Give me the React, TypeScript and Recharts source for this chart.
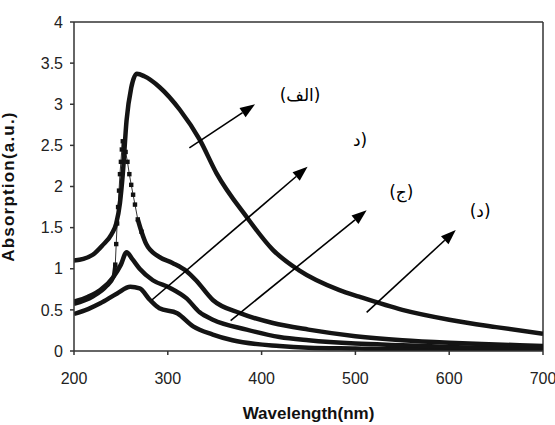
import React from 'react';
import { LineChart, Line, XAxis, YAxis, ReferenceLine, ReferenceDot, Label } from 'recharts';

const xTicks = [200, 300, 400, 500, 600, 700];
const yTicks = [0, 0.5, 1, 1.5, 2, 2.5, 3, 3.5, 4];

const aWavelength = [200, 210, 220, 230, 240, 245, 249, 252, 256, 261, 267, 275, 291, 313, 334, 352, 384, 412, 440, 483, 504, 550, 600, 650, 700];
const aAbsorption = [1.1, 1.12, 1.17, 1.28, 1.42, 1.55, 1.8, 2.15, 2.8, 3.2, 3.37, 3.34, 3.21, 2.93, 2.57, 2.16, 1.63, 1.23, 0.98, 0.74, 0.66, 0.5, 0.38, 0.29, 0.21];

const bWavelength = [200, 220, 235, 242, 244, 245, 246, 247, 248, 249, 250, 251, 252, 253, 255, 257, 259, 261, 263, 265, 268, 272, 277, 290, 305, 320, 330, 348, 377, 412, 450, 500, 550, 600, 650, 700];
const bAbsorption = [0.57, 0.66, 0.79, 0.9, 1.05, 1.3, 1.55, 1.75, 1.95, 2.15, 2.3, 2.45, 2.55, 2.5, 2.42, 2.3, 2.15, 2.02, 1.9, 1.78, 1.6, 1.45, 1.3, 1.15, 1.07, 0.97, 0.86, 0.62, 0.46, 0.34, 0.26, 0.18, 0.13, 0.1, 0.08, 0.06];
const bSpikeFrom = 244;
const bSpikeTo = 272;

const cWavelength = [200, 215, 228, 242, 250, 256, 262, 270, 284, 302, 320, 334, 348, 384, 419, 450, 500, 550, 600, 650, 700];
const cAbsorption = [0.6, 0.66, 0.74, 0.9, 1.05, 1.2, 1.12, 1.0, 0.86, 0.77, 0.64, 0.47, 0.38, 0.26, 0.17, 0.13, 0.09, 0.07, 0.05, 0.04, 0.04];

const dWavelength = [200, 215, 228, 246, 260, 270, 281, 291, 310, 327, 348, 369, 419, 450, 500, 550, 600, 650, 700];
const dAbsorption = [0.45, 0.51, 0.58, 0.7, 0.78, 0.76, 0.62, 0.52, 0.46, 0.3, 0.2, 0.13, 0.06, 0.04, 0.03, 0.02, 0.02, 0.02, 0.01];

const arrows = [
  { x1: 323, y1: 2.47, x2: 393, y2: 3.0 },
  { x1: 283, y1: 0.62, x2: 449, y2: 2.24 },
  { x1: 367, y1: 0.37, x2: 512, y2: 1.71 },
  { x1: 512, y1: 0.47, x2: 607, y2: 1.47 },
];

const labels = [
  { x: 441, y: 3.11, text: '(الف)' },
  { x: 505, y: 2.57, text: 'د)' },
  { x: 549, y: 1.93, text: '(ج)' },
  { x: 633, y: 1.7, text: '(د)' },
];

const toPoints = (xs: number[], ys: number[]) => xs.map((w, i) => ({ w, v: ys[i] }));

const aData = toPoints(aWavelength, aAbsorption);
const cData = toPoints(cWavelength, cAbsorption);
const dData = toPoints(dWavelength, dAbsorption);
const bAll = toPoints(bWavelength, bAbsorption);
const bLeft = bAll.filter((p) => p.w <= bSpikeFrom);
const bSpike = bAll.filter((p) => p.w >= bSpikeFrom && p.w <= bSpikeTo);
const bTail = bAll.filter((p) => p.w >= bSpikeTo - 5);

const ArrowShape = (props: any) => {
  const { x1, y1, x2, y2 } = props;
  if ([x1, y1, x2, y2].some((n) => typeof n !== 'number' || isNaN(n))) return null;
  const ang = Math.atan2(y2 - y1, x2 - x1);
  const len = 15;
  const half = 5.5;
  const bx = x2 - len * Math.cos(ang);
  const by = y2 - len * Math.sin(ang);
  const px = -Math.sin(ang) * half;
  const py = Math.cos(ang) * half;
  return (
    <g>
      <line x1={x1} y1={y1} x2={bx} y2={by} stroke="#000" strokeWidth={1.6} />
      <polygon points={`${x2},${y2} ${bx + px},${by + py} ${bx - px},${by - py}`} fill="#000" />
    </g>
  );
};

const SquareDot = (props: any) => {
  const { cx, cy } = props;
  if (typeof cx !== 'number' || typeof cy !== 'number') return null;
  return <rect x={cx - 2.2} y={cy - 2.2} width={4.4} height={4.4} fill="#111" />;
};

const tickStyle = { fontFamily: 'Liberation Sans, Arial, sans-serif', fontSize: 16, fill: '#222' };

export default function App() {
  return (
    <div style={{ position: 'absolute', left: 0, top: 0, background: '#fff' }}>
      <LineChart width={555} height={425} margin={{ top: 22, right: 12, left: 0, bottom: 0 }}>
        <XAxis
          type="number"
          dataKey="w"
          domain={[200, 700]}
          ticks={xTicks}
          allowDataOverflow
          height={74}
          tickSize={4}
          tickMargin={18}
          tick={tickStyle}
          stroke="#333"
          strokeWidth={1.5}
        >
          <Label
            value="Wavelength(nm)"
            position="insideBottom"
            offset={6}
            style={{ fontFamily: 'Liberation Sans, Arial, sans-serif', fontSize: 17, fontWeight: 'bold', fill: '#111' }}
          />
        </XAxis>
        <YAxis
          type="number"
          domain={[0, 4]}
          ticks={yTicks}
          allowDataOverflow
          width={74}
          tickSize={4}
          tickMargin={7}
          tick={tickStyle}
          stroke="#333"
          strokeWidth={1.5}
        >
          <Label
            value="Absorption(a.u.)"
            angle={-90}
            position="insideLeft"
            offset={8}
            style={{ textAnchor: 'middle', fontFamily: 'Liberation Sans, Arial, sans-serif', fontSize: 17, fontWeight: 'bold', fill: '#111', letterSpacing: 1.2 }}
          />
        </YAxis>
        <ReferenceLine y={4} stroke="#333" strokeWidth={1.5} />
        <ReferenceLine x={700} stroke="#333" strokeWidth={1.5} />

        <Line data={dData} dataKey="v" type="monotone" stroke="#141414" strokeWidth={4.5} dot={false} isAnimationActive={false} />
        <Line data={cData} dataKey="v" type="monotone" stroke="#141414" strokeWidth={4.5} dot={false} isAnimationActive={false} />
        <Line data={bLeft} dataKey="v" type="monotone" stroke="#141414" strokeWidth={4} dot={false} isAnimationActive={false} />
        <Line data={bSpike} dataKey="v" type="linear" stroke="#333" strokeWidth={1} dot={<SquareDot />} isAnimationActive={false} />
        <Line data={bTail} dataKey="v" type="monotone" stroke="#141414" strokeWidth={4.5} dot={false} isAnimationActive={false} />
        <Line data={aData} dataKey="v" type="monotone" stroke="#141414" strokeWidth={4.5} dot={false} isAnimationActive={false} />

        {arrows.map((a, i) => (
          <ReferenceLine
            key={`ar${i}`}
            segment={[{ x: a.x1, y: a.y1 }, { x: a.x2, y: a.y2 }]}
            shape={<ArrowShape />}
            ifOverflow="visible"
          />
        ))}
        {labels.map((l, i) => (
          <ReferenceDot
            key={`lb${i}`}
            x={l.x}
            y={l.y}
            r={0}
            fill="none"
            stroke="none"
            ifOverflow="visible"
            label={{ value: l.text, position: 'center', fontFamily: 'DejaVu Sans, sans-serif', fontSize: 17, fill: '#000' }}
          />
        ))}
      </LineChart>
    </div>
  );
}
